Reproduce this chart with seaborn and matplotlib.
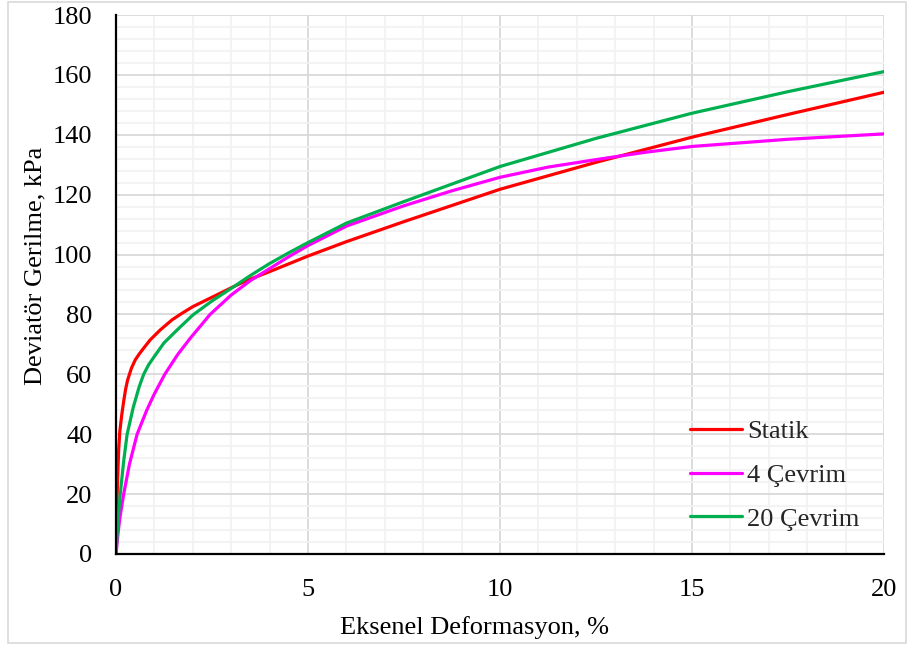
import matplotlib
matplotlib.use("Agg")
import matplotlib.pyplot as plt
from matplotlib.patches import Rectangle
from matplotlib.ticker import MultipleLocator
import seaborn as sns
import pandas as pd

# ---- data ----
x_statik = [0, 0.015, 0.03, 0.05, 0.07, 0.1, 0.15, 0.2, 0.25, 0.3, 0.4, 0.5, 0.6, 0.7, 0.89, 1.15,
            1.46, 1.72, 2, 2.35, 2.7, 3, 3.4, 4, 5, 6, 7.5, 10, 12.5, 15, 17.5, 20]
y_statik = [0, 10, 20, 28, 35, 41, 46.5, 51, 55, 58, 62, 64.8, 66.7, 68.4, 71.5, 74.8,
            78.2, 80.4, 82.6, 84.8, 87, 88.9, 91.3, 94.3, 99.5, 104.3, 111, 121.8, 130.8, 139.2, 146.8, 154.2]

x_4cevrim = [0, 0.05, 0.1, 0.2, 0.35, 0.55, 0.8, 1.0, 1.27, 1.6, 1.93, 2.45, 3, 3.5, 4, 4.5, 5, 6, 7.5,
             8.75, 10, 11.25, 12.5, 13.75, 15, 17.5, 20]
y_4cevrim = [0, 6.5, 12, 20, 30, 40, 48, 53.5, 60, 66.5, 72, 80, 86.5, 91.3, 95.3, 99.3, 103, 109.5, 116.3,
             121.3, 125.8, 129.2, 131.7, 134.1, 136.1, 138.5, 140.3]

x_20cevrim = [0, 0.05, 0.11, 0.2, 0.29, 0.45, 0.6, 0.72, 0.85, 1.0, 1.25, 1.59, 2, 2.5, 3, 3.5, 4, 4.5, 5,
              6, 7.5, 10, 12.5, 15, 17.5, 20]
y_20cevrim = [0, 11, 20, 31, 40, 49, 55.7, 60, 63.2, 66, 70.5, 74.8, 79.8, 84.5, 88.7, 93, 97, 100.6, 104,
              110.5, 117.7, 129.4, 138.8, 147.2, 154.4, 161.1]

series_names = ["Statik", "4 Çevrim", "20 Çevrim"]
series_colors = ["#FF0000", "#FF00FF", "#00B050"]

x_ticks = [0, 5, 10, 15, 20]
y_ticks = [0, 20, 40, 60, 80, 100, 120, 140, 160, 180]

frames = []
for name, xs, ys in zip(series_names,
                        [x_statik, x_4cevrim, x_20cevrim],
                        [y_statik, y_4cevrim, y_20cevrim]):
    frames.append(pd.DataFrame({"x": xs, "y": ys, "seri": name}))
df = pd.concat(frames, ignore_index=True)

# ---- styling ----
sns.set_theme(style="white")
plt.rcParams["font.family"] = ["Liberation Serif", "DejaVu Serif"]
FS = 19

fig = plt.figure(figsize=(9.07, 6.48), dpi=100)
W, H = 907, 648
ax = fig.add_axes([116 / W, 1 - 554 / H, (884 - 116) / W, (554 - 15) / H])

# outer chart border
fig.patches.append(Rectangle((8 / W, 1 - 643 / H), (906 - 8) / W, (642 - 1) / H,
                             transform=fig.transFigure, fill=False,
                             edgecolor="#D9D9D9", linewidth=1.2, zorder=0))

sns.lineplot(data=df, x="x", y="y", hue="seri", hue_order=series_names,
             palette=series_colors, linewidth=2.3, sort=False,
             estimator=None, ax=ax, legend=True)
for ln in ax.get_lines():
    ln.set_solid_joinstyle("round")

ax.set_xlim(0, 20)
ax.set_ylim(0, 180)
ax.set_xticks(x_ticks)
ax.set_yticks(y_ticks)
ax.xaxis.set_minor_locator(MultipleLocator(1))
ax.yaxis.set_minor_locator(MultipleLocator(4))
ax.grid(which="major", color="#D9D9D9", linewidth=1.3, zorder=0)
ax.grid(which="minor", color="#F2F2F2", linewidth=1.3, zorder=0)
ax.set_axisbelow(True)

for s in ["top", "right"]:
    ax.spines[s].set_visible(False)
for s in ["left", "bottom"]:
    ax.spines[s].set_color("black")
    ax.spines[s].set_linewidth(1.6)

ax.tick_params(axis="both", which="major", direction="out", length=6,
               width=1.6, color="black", labelsize=FS, labelcolor="black")
ax.tick_params(axis="x", which="major", pad=12)
ax.tick_params(axis="y", which="major", pad=11)
ax.tick_params(which="minor", length=0)

ax.set_xlabel("")
ax.set_ylabel("")
fig.text(474 / W, 1 - 628 / H, "Eksenel Deformasyon, %", fontsize=FS, color="black",
         ha="center", va="center")
fig.text(35.5 / W, 1 - 266 / H, "Deviatör Gerilme, kPa", fontsize=FS, color="black",
         ha="center", va="center", rotation=90)

leg = ax.legend(loc="upper left", bbox_to_anchor=(690 / W, 1 - 420 / H),
                bbox_transform=fig.transFigure, frameon=False, fontsize=FS,
                handlelength=1.97, handletextpad=0.2, labelspacing=0.76,
                borderpad=0, borderaxespad=0)
for line in leg.get_lines():
    line.set_linewidth(2.3)

fig.savefig("out.png", dpi=100)
